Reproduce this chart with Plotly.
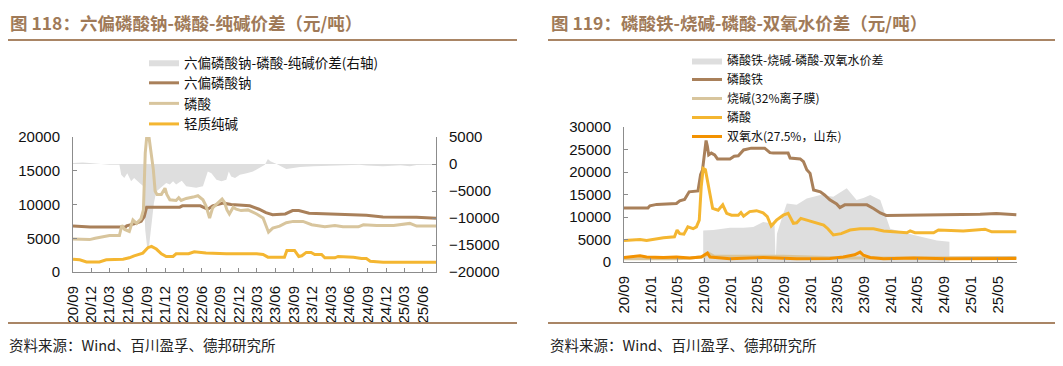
import plotly.graph_objects as go

W, H = 1063, 366

# ---------------- Left chart data (图118) ----------------
spread_l_dates = ["2020-09-01","2020-10-19","2020-11-22","2021-01-10","2021-03-01","2021-04-19","2021-04-28",
    "2021-05-13","2021-05-28","2021-06-16","2021-07-01","2021-07-28","2021-08-16","2021-08-25","2021-09-04",
    "2021-09-13","2021-09-25","2021-10-07","2021-10-19","2021-11-22","2021-12-07","2021-12-25","2022-01-10",
    "2022-01-25","2022-02-22","2022-03-16","2022-05-04","2022-06-07","2022-07-01","2022-07-19","2022-08-13",
    "2022-09-07","2022-10-01","2022-10-13","2022-10-25","2022-11-13","2022-12-07","2023-01-10","2023-02-10",
    "2023-03-13","2023-04-10","2023-04-25","2023-05-07","2023-06-07","2023-07-25","2023-08-28","2023-10-01",
    "2023-12-07","2024-03-13","2024-07-22","2024-08-25","2024-11-16","2025-02-10","2025-03-28","2025-05-01",
    "2025-08-05"]
spread_l = [185, 300, 200, 0, -120, -120, -2000, -2600, -1700, -3200, -2600, -3500, -4100, -12200, -15600,
    -15200, -11500, -7200, -5100, -4100, -3500, -3800, -3200, -3800, -3100, -4100, -4400, -4100, -1400, -1700,
    -2900, -3200, -2900, -1400, -2300, -2600, -2000, -1700, -1400, -740, -120, 930, 500, 0, -930, -740, -560,
    -430, -250, -120, -300, -430, -250, -430, -200, -120]

shmp_dates = ["2020-09-01","2020-11-10","2020-11-25","2021-05-20","2021-05-25","2021-07-10","2021-08-05",
    "2021-08-20","2021-09-01","2022-02-12","2022-02-25","2022-05-25","2022-07-01","2022-07-25","2022-09-15",
    "2022-10-25","2023-01-25","2023-03-12","2023-04-15","2023-05-18","2023-07-20","2023-08-25","2023-09-25",
    "2023-11-15","2024-03-15","2024-08-25","2024-11-15","2025-05-01","2025-08-05"]
shmp = [6800, 6750, 6650, 6650, 6850, 7200, 7500, 8200, 9600, 9600, 9800, 9800, 9300, 9800, 10200, 10000,
    9800, 9300, 8800, 8500, 8600, 9100, 9100, 8700, 8600, 8400, 8150, 8100, 7950]

pa_l_dates = ["2020-09-01","2020-10-01","2020-11-22","2020-12-20","2021-02-13","2021-03-01","2021-04-19",
    "2021-05-01","2021-05-15","2021-06-07","2021-06-25","2021-07-13","2021-08-04","2021-08-16","2021-08-25",
    "2021-09-01","2021-09-13","2021-09-25","2021-10-04","2021-10-13","2021-10-22","2021-11-13","2021-11-22",
    "2021-12-01","2021-12-10","2021-12-25","2022-01-25","2022-02-07","2022-02-19","2022-03-16","2022-04-19",
    "2022-05-13","2022-06-07","2022-06-22","2022-07-10","2022-07-25","2022-08-19","2022-09-10","2022-09-22",
    "2022-10-04","2022-10-16","2022-11-04","2022-11-19","2022-12-13","2023-01-16","2023-02-28","2023-04-01",
    "2023-04-16","2023-04-28","2023-05-19","2023-06-22","2023-07-25","2023-08-28","2023-10-16","2023-11-28",
    "2024-02-01","2024-03-22","2024-05-01","2024-07-16","2024-08-10","2024-10-16","2025-01-07","2025-03-28",
    "2025-05-01","2025-08-05"]
pa_l = [4900, 4900, 4800, 5000, 5300, 5400, 5400, 6900, 6300, 6000, 7700, 7200, 7900, 9200, 17600,
    19900, 19900, 17100, 15200, 12000, 11500, 11500, 11950, 12400, 11500, 10700, 10600, 11000, 10600, 10900,
    11100, 11300, 10700, 9800, 8000, 9500, 10200, 10800, 10300, 9200, 8600, 9600, 9300, 9100, 9200, 8600,
    8000, 6800, 5900, 6500, 6800, 7300, 7500, 7500, 7000, 6700, 6900, 6700, 6700, 7000, 6900, 6900, 7200,
    6800, 6800]

soda_dates = ["2020-09-01","2020-10-04","2020-11-07","2021-01-10","2021-02-13","2021-05-07","2021-06-07",
    "2021-07-01","2021-08-13","2021-09-07","2021-09-25","2021-10-19","2021-11-13","2021-12-07","2022-01-10",
    "2022-01-25","2022-03-28","2022-04-25","2022-06-22","2022-10-01","2023-02-28","2023-04-01","2023-04-25",
    "2023-07-16","2023-07-28","2023-09-04","2023-09-25","2023-10-10","2023-11-01","2023-11-25","2023-12-13",
    "2024-01-16","2024-02-01","2024-03-22","2024-04-07","2024-06-22","2024-08-01","2024-08-25","2024-09-13",
    "2024-11-16","2025-08-05"]
soda = [1900, 1800, 1500, 1500, 1800, 1900, 2100, 2400, 2800, 3600, 3800, 3400, 2700, 2300, 2300, 2700,
    2700, 3000, 2800, 2700, 2700, 2600, 2200, 2200, 3200, 3200, 2300, 2400, 2900, 2900, 2600, 2600, 2100,
    2100, 2300, 2200, 2000, 2000, 1600, 1450, 1450]

# ---------------- Right chart data (图119) ----------------
spread_r_dates = ["2021-08-28","2021-10-13","2021-12-28","2022-02-28","2022-04-13","2022-05-28","2022-07-04",
    "2022-07-19","2022-07-24","2022-07-30","2022-08-28","2022-09-13","2022-10-28","2022-12-13","2023-02-13",
    "2023-04-13","2023-06-13","2023-06-28","2023-07-28","2023-08-28","2023-09-28","2023-11-13","2023-12-19",
    "2023-12-28","2024-04-13","2024-07-28","2024-09-23"]
spread_r = [7000, 7100, 7600, 7600, 7800, 8900, 8600, 8600, 0, 6300, 10800, 13000, 12700, 14100, 14900,
    14500, 16400, 15500, 13800, 14200, 14900, 13800, 8600, 7400, 6000, 4800, 4500]

fp_dates = ["2020-09-01","2020-12-19","2020-12-28","2021-01-28","2021-04-28","2021-05-13","2021-06-04",
    "2021-06-25","2021-08-04","2021-08-16","2021-08-25","2021-09-01","2021-09-10","2021-09-16","2021-09-22",
    "2021-10-04","2021-10-19","2021-11-01","2021-12-28","2022-01-16","2022-02-04","2022-02-28","2022-04-04",
    "2022-06-04","2022-06-28","2022-07-13","2022-09-19","2022-09-28","2022-11-13","2022-11-28","2022-12-13",
    "2022-12-28","2023-01-13","2023-02-13","2023-03-04","2023-03-28","2023-04-28","2023-05-13","2023-06-04",
    "2023-07-19","2023-09-13","2023-10-13","2023-11-13","2023-12-10","2024-04-13","2024-09-13","2025-02-10",
    "2025-04-25","2025-07-25"]
fp = [12000, 12000, 12500, 12800, 13000, 13600, 13900, 15600, 15800, 19400, 20500, 23100, 27000, 25700,
    23800, 24200, 23800, 22900, 22900, 23500, 23600, 24900, 25300, 25300, 24300, 24200, 24200, 23100, 22900,
    22300, 20500, 19700, 16000, 15600, 14900, 13800, 12900, 12100, 12700, 12700, 12700, 11900, 10900, 10350,
    10400, 10600, 10600, 10800, 10500]

caustic_dates = ["2020-09-01","2021-05-01","2021-07-01","2021-09-01","2021-09-20","2021-10-15","2022-09-01",
    "2023-01-01","2023-06-01","2024-01-01","2024-09-01","2025-07-25"]
caustic = [700, 700, 900, 1200, 2000, 1300, 1300, 1100, 900, 900, 1000, 1000]

pa_r_dates = ["2020-09-01","2020-11-13","2020-12-13","2021-02-28","2021-04-19","2021-05-01","2021-05-13",
    "2021-06-01","2021-06-19","2021-07-13","2021-07-28","2021-08-10","2021-08-19","2021-08-28","2021-09-07",
    "2021-09-28","2021-10-10","2021-11-04","2021-11-25","2021-12-13","2022-01-04","2022-02-04","2022-02-16",
    "2022-02-28","2022-03-28","2022-04-28","2022-05-28","2022-06-16","2022-07-04","2022-07-28","2022-08-28",
    "2022-09-19","2022-10-13","2022-10-28","2022-11-16","2022-12-13","2023-01-13","2023-02-28","2023-03-19",
    "2023-04-13","2023-05-19","2023-06-28","2023-08-13","2023-10-13","2023-11-28","2024-01-28","2024-03-13",
    "2024-03-28","2024-04-19","2024-07-13","2024-08-04","2024-11-25","2025-03-04","2025-04-04","2025-07-25"]
pa_r = [4800, 5000, 4800, 5400, 5600, 7100, 6300, 6200, 7800, 7400, 7800, 9300, 16800, 20800, 20500,
    15300, 11900, 11500, 12700, 10800, 10400, 10400, 11000, 10200, 11200, 11400, 10900, 10100, 8000, 9300,
    10400, 10800, 8600, 8700, 9700, 9300, 8900, 8200, 7400, 6000, 6300, 7100, 7400, 7400, 6900, 6700, 6500,
    6900, 6500, 6500, 7100, 6900, 7300, 6700, 6700]

h2o2_dates = ["2020-09-01","2020-09-28","2020-11-13","2020-12-13","2021-02-28","2021-04-28","2021-06-28",
    "2021-08-19","2021-09-16","2021-09-28","2021-12-28","2022-05-28","2022-10-28","2023-03-28","2023-05-28",
    "2023-07-19","2023-08-13","2023-08-28","2023-09-28","2023-11-28","2024-04-13","2024-09-13","2025-04-25",
    "2025-07-25"]
h2o2 = [1000, 1100, 1400, 1100, 1000, 1100, 900, 1100, 2000, 1100, 750, 1000, 750, 800, 1100, 1600, 2200,
    1500, 1000, 700, 900, 750, 800, 800]

# ---------------- styling ----------------
C_BROWN = "#A9805A"
C_TAN = "#D8C59D"
C_YELLOW = "#F4B631"
C_ORANGE = "#F39200"
C_GRAY = "#DEDEDE"
C_TITLE = "#A07A58"
C_RULE = "#A98565"
AX = "#8C8C8C"
NUM_FONT = dict(family="Liberation Sans, Arial, sans-serif", size=15, color="#111111")
CJK = "Noto Sans CJK SC"

# the page body adds an 8px offset; screen-pixel positions are converted to paper fractions
OFF = 8

def px_x(v):
    return (v - OFF) / W

def px_y(v):
    return 1 - (v - OFF) / H

fig = go.Figure()

# left chart: spread on base axis y (right side), lines on overlay y2 (left side)
fig.add_trace(go.Scatter(x=spread_l_dates, y=spread_l, xaxis="x", yaxis="y", mode="lines",
    line=dict(width=0, color=C_GRAY), fill="tozeroy", fillcolor=C_GRAY,
    name="六偏磷酸钠-磷酸-纯碱价差(右轴)", legend="legend"))
fig.add_trace(go.Scatter(x=shmp_dates, y=shmp, xaxis="x", yaxis="y2", mode="lines",
    line=dict(width=3, color=C_BROWN), name="六偏磷酸钠", legend="legend"))
fig.add_trace(go.Scatter(x=pa_l_dates, y=pa_l, xaxis="x", yaxis="y2", mode="lines",
    line=dict(width=3, color=C_TAN), name="磷酸", legend="legend"))
fig.add_trace(go.Scatter(x=soda_dates, y=soda, xaxis="x", yaxis="y2", mode="lines",
    line=dict(width=3, color=C_YELLOW), name="轻质纯碱", legend="legend"))

# right chart
fig.add_trace(go.Scatter(x=spread_r_dates, y=spread_r, xaxis="x2", yaxis="y3", mode="lines",
    line=dict(width=0, color=C_GRAY), fill="tozeroy", fillcolor=C_GRAY,
    name="磷酸铁-烧碱-磷酸-双氧水价差", legend="legend2"))
fig.add_trace(go.Scatter(x=fp_dates, y=fp, xaxis="x2", yaxis="y3", mode="lines",
    line=dict(width=3, color=C_BROWN), name="磷酸铁", legend="legend2"))
fig.add_trace(go.Scatter(x=caustic_dates, y=caustic, xaxis="x2", yaxis="y3", mode="lines",
    line=dict(width=3, color=C_TAN), name="烧碱(32%离子膜)", legend="legend2"))
fig.add_trace(go.Scatter(x=pa_r_dates, y=pa_r, xaxis="x2", yaxis="y3", mode="lines",
    line=dict(width=3, color=C_YELLOW), name="磷酸", legend="legend2"))
fig.add_trace(go.Scatter(x=h2o2_dates, y=h2o2, xaxis="x2", yaxis="y3", mode="lines",
    line=dict(width=3, color=C_ORANGE), name="双氧水(27.5%，山东)", legend="legend2"))

common_y = dict(showline=True, linecolor=AX, linewidth=1, ticks="inside", ticklen=4, tickcolor=AX,
    showgrid=False, zeroline=False, tickfont=NUM_FONT, dtick=5000, ticklabelstandoff=9,
    tickformat="d", automargin=False)
common_x = dict(type="date", showline=True, linecolor=AX, linewidth=1, ticks="inside", ticklen=4,
    tickcolor=AX, showgrid=False, zeroline=False, tickfont=NUM_FONT, tickformat="%y/%m",
    tickangle=-90, tick0="2020-09-01", ticklabelstandoff=7, automargin=False)

fig.update_layout(
    width=W, height=H, margin=dict(l=0, r=0, t=0, b=0, pad=0, autoexpand=False),
    paper_bgcolor="white", plot_bgcolor="white", hovermode=False,
    xaxis=dict(common_x, domain=[px_x(73), px_x(436)], anchor="y", dtick="M3",
               range=["2020-09-01", "2025-08-05"]),
    yaxis=dict(common_y, domain=[px_y(272), px_y(137)], anchor="x", side="right",
               range=[-20000, 5000]),
    yaxis2=dict(common_y, overlaying="y", anchor="x", side="left", range=[0, 20000]),
    xaxis2=dict(common_x, domain=[px_x(624), px_x(1017)], anchor="y3", dtick="M4",
                range=["2020-09-01", "2025-07-28"]),
    yaxis3=dict(common_y, domain=[px_y(262), px_y(127)], anchor="x2", range=[0, 30000]),
    legend=dict(x=px_x(144), y=px_y(47), xanchor="left", yanchor="top", bgcolor="rgba(0,0,0,0)",
                font=dict(family=CJK, size=13.5, color="#111111"), tracegroupgap=0),
    legend2=dict(x=px_x(687), y=px_y(46), xanchor="left", yanchor="top", bgcolor="rgba(0,0,0,0)",
                 font=dict(family=CJK, size=12, color="#111111"), tracegroupgap=0),
    showlegend=True,
)

title_font = dict(family=CJK, size=17.5, color=C_TITLE, weight="bold")
fig.add_annotation(text="图 118：六偏磷酸钠-磷酸-纯碱价差（元/吨）", x=px_x(8), y=px_y(22),
    xref="paper", yref="paper", xanchor="left", yanchor="middle", showarrow=False, font=title_font)
fig.add_annotation(text="图 119：磷酸铁-烧碱-磷酸-双氧水价差（元/吨）", x=px_x(549), y=px_y(22),
    xref="paper", yref="paper", xanchor="left", yanchor="middle", showarrow=False, font=title_font)

foot_font = dict(family=CJK, size=14.5, color="#222222")
fig.add_annotation(text="资料来源：Wind、百川盈孚、德邦研究所", x=px_x(7), y=px_y(344),
    xref="paper", yref="paper", xanchor="left", yanchor="middle", showarrow=False, font=foot_font)
fig.add_annotation(text="资料来源：Wind、百川盈孚、德邦研究所", x=px_x(548), y=px_y(344),
    xref="paper", yref="paper", xanchor="left", yanchor="middle", showarrow=False, font=foot_font)

for x0, x1 in [(8, 517), (548, 1058)]:
    for yy in (40, 323):
        fig.add_shape(type="line", xref="paper", yref="paper", x0=px_x(x0), x1=px_x(x1),
                      y0=px_y(yy), y1=px_y(yy), line=dict(color=C_RULE, width=2))

fig.write_html("out.html")
